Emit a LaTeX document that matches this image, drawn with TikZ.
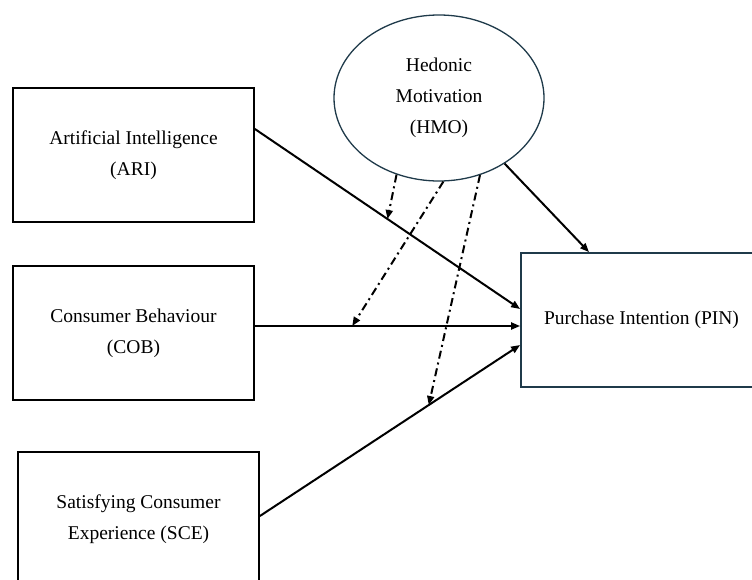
\documentclass[tikz,border=0pt]{standalone}
\usepackage{fontspec,xcolor}
\setmainfont{Liberation Serif}
\usetikzlibrary{arrows.meta,shapes.geometric}
\definecolor{edge}{HTML}{1F3A4A}
\tikzset{
  construct/.style={draw,line width=1.8pt,minimum width=241pt,minimum height=134pt,align=center,font=\fontsize{19.5}{31}\selectfont},
  moderator/.style={draw=edge,line width=1.3pt,ellipse,minimum width=210pt,minimum height=166pt,align=center,font=\fontsize{19.5}{31}\selectfont},
  path/.style={line width=2pt,-{Triangle[length=9pt,width=7pt]}},
  moderation/.style={path,dash pattern=on 8pt off 4pt on 2pt off 4pt}
}
\begin{document}
\begin{tikzpicture}[x=1pt,y=-1pt]
\useasboundingbox (0,0) rectangle (752,579);
\clip (0,0) rectangle (752,579);
\node[construct] (ARI) at (133.5,155) {Artificial Intelligence\\(ARI)};
\node[construct] (COB) at (133.5,333) {Consumer Behaviour\\(COB)};
\node[construct] (SCE) at (138.5,519) {Satisfying Consumer\\Experience (SCE)};
\node[construct,draw=edge] (PIN) at (641.5,320) {Purchase Intention (PIN)};
\node[moderator] (HMO) at (439,98) {Hedonic\\Motivation\\(HMO)};
% direct paths
\draw[path] ([yshift=26pt]ARI.east) -- coordinate[pos=0.5] (onARI) ([yshift=11pt]PIN.west);
\draw[path] ([yshift=7pt]COB.east) -- coordinate[pos=0.367] (onCOB) ([yshift=-6pt]PIN.west);
\draw[path] ([yshift=3pt]SCE.east) -- coordinate[pos=0.649] (onSCE) ([yshift=-25pt]PIN.west);
\draw[path] (HMO.-45) -- ([xshift=-52.5pt]PIN.north);
% moderating effects
\draw[moderation] (HMO.-119) -- (onARI);
\draw[moderation] (HMO.-87) -- (onCOB);
\draw[moderation] (HMO.-62) -- (onSCE);
\end{tikzpicture}
\end{document}
